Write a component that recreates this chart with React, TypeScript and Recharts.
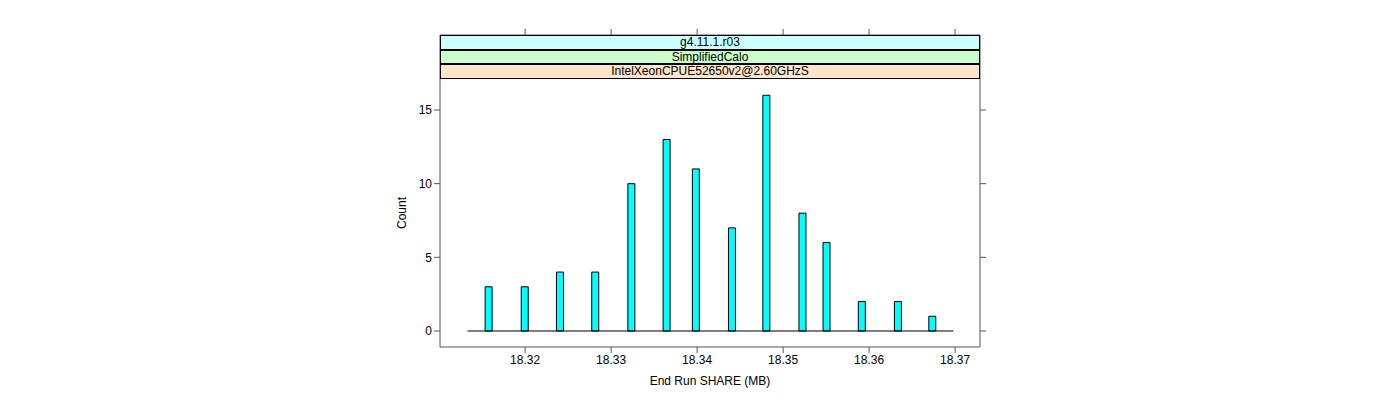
import { ComposedChart, Bar, XAxis, YAxis, ReferenceLine } from 'recharts';

// histogram of end-run SHARE memory
const shareMB = [
  18.3157, 18.3199, 18.324, 18.3281, 18.3323, 18.3364, 18.3398,
  18.344, 18.348, 18.3522, 18.355, 18.3591, 18.3633, 18.3673,
];
const counts = [3, 3, 4, 4, 10, 13, 11, 7, 16, 8, 6, 2, 2, 1];
const xTicks = [18.32, 18.33, 18.34, 18.35, 18.36, 18.37];
const yTicks = [0, 5, 10, 15];
const strips = [
  { label: 'g4.11.1.r03', color: '#CCFFFF' },
  { label: 'SimplifiedCalo', color: '#CCFFCC' },
  { label: 'IntelXeonCPUE52650v2@2.60GHzS', color: '#FFE5CC' },
];

const data = shareMB.map((share, i) => ({ share, count: counts[i] }));

const font = '"Liberation Sans", Arial, sans-serif';
const xDomain = [18.3101, 18.3729];
const yDomain = [-1.086, 20.09];
const axisColor = '#555';
const tickStyle = { fontSize: 12, fill: '#000', fontFamily: font };

export default function App() {
  return (
    <div style={{ position: 'absolute', left: 0, top: 0, width: 1400, height: 400, background: '#fff' }}>
      <ComposedChart
        width={1400}
        height={400}
        data={data}
        margin={{ top: 25, left: 400, right: 410, bottom: 23 }}
      >
        <XAxis
          xAxisId="bottom"
          dataKey="share"
          type="number"
          domain={xDomain}
          ticks={xTicks}
          allowDataOverflow
          height={30}
          tickSize={6}
          stroke={axisColor}
          tick={tickStyle}
          tickFormatter={(v: number) => v.toFixed(2)}
        />
        <XAxis
          xAxisId="top"
          orientation="top"
          dataKey="share"
          type="number"
          domain={xDomain}
          ticks={xTicks}
          allowDataOverflow
          height={10}
          tickSize={6}
          stroke={axisColor}
          tickFormatter={() => ''}
        />
        <YAxis
          yAxisId="left"
          type="number"
          domain={yDomain}
          ticks={yTicks}
          allowDataOverflow
          width={40}
          tickSize={6}
          stroke={axisColor}
          tick={tickStyle}
        />
        <YAxis
          yAxisId="right"
          orientation="right"
          type="number"
          domain={yDomain}
          ticks={yTicks}
          allowDataOverflow
          width={10}
          tickSize={6}
          stroke={axisColor}
          tickFormatter={() => ''}
        />
        <ReferenceLine
          xAxisId="bottom"
          yAxisId="left"
          segment={[
            { x: 18.3133, y: 0 },
            { x: 18.3698, y: 0 },
          ]}
          stroke="#000"
          strokeWidth={1}
        />
        <Bar
          xAxisId="bottom"
          yAxisId="left"
          dataKey="count"
          barSize={7}
          fill="#00FFFF"
          stroke="#000"
          strokeWidth={1}
          isAnimationActive={false}
        />
      </ComposedChart>
      {strips.map((s, i) => (
        <div
          key={s.label}
          style={{
            position: 'absolute',
            left: 440,
            top: 35 + i * 14.5,
            width: 540,
            height: 14.5,
            boxSizing: 'border-box',
            border: '1px solid #000',
            background: s.color,
            fontFamily: font,
            fontSize: 12,
            lineHeight: '13px',
            textAlign: 'center',
          }}
        >
          {s.label}
        </div>
      ))}
      <div
        style={{
          position: 'absolute',
          left: 440,
          width: 540,
          top: 374,
          textAlign: 'center',
          fontFamily: font,
          fontSize: 12,
        }}
      >
        End Run SHARE (MB)
      </div>
      <div
        style={{
          position: 'absolute',
          left: 402,
          top: 213,
          transform: 'translate(-50%, -50%) rotate(-90deg)',
          fontFamily: font,
          fontSize: 12,
          whiteSpace: 'nowrap',
        }}
      >
        Count
      </div>
    </div>
  );
}
